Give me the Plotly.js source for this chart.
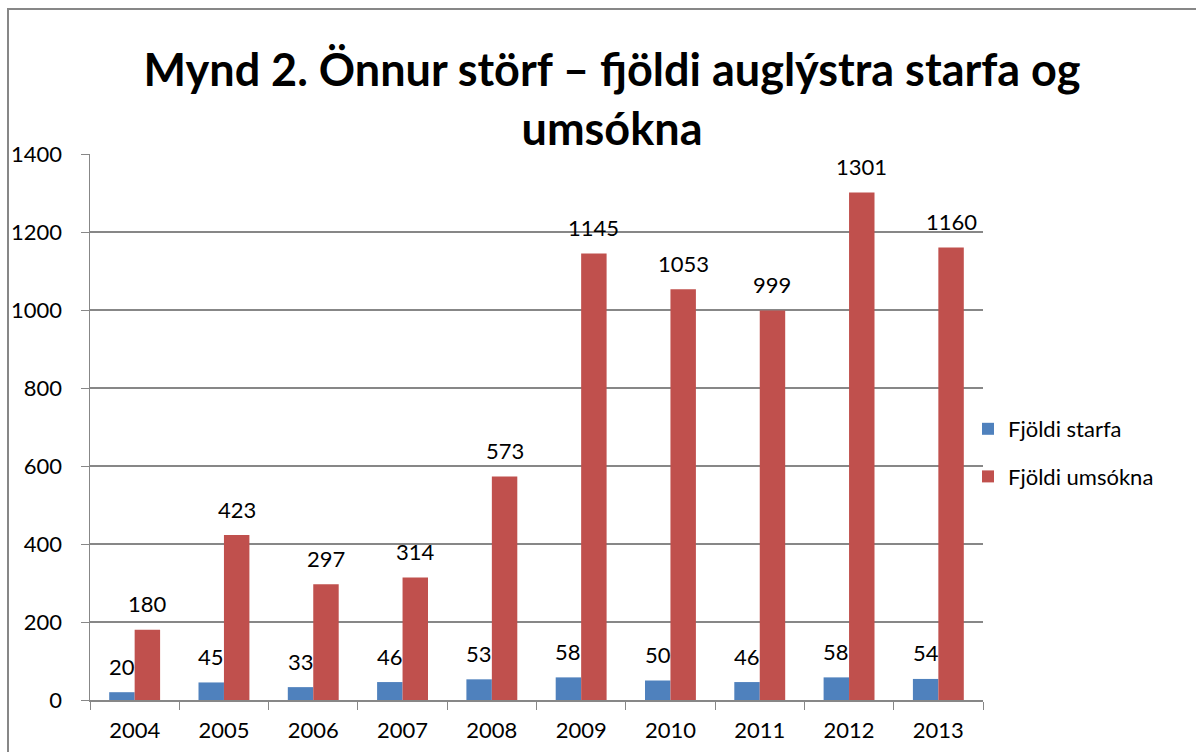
<!DOCTYPE html>
<html>
<head>
<meta charset="utf-8">
<script src="https://cdn.plot.ly/plotly-3.0.1.min.js"></script>
<style>
  html, body { margin: 0; padding: 0; background: #fff; overflow: hidden; }
  #chart { position: absolute; left: 0; top: 0; width: 1196px; height: 752px; }
  #frame { position: absolute; left: 7px; top: 8px; width: 1400px; height: 1000px;
           border: 2px solid #878787; pointer-events: none; }
</style>
</head>
<body>
<div id="chart"></div>
<div id="frame"></div>
<script>
const years = ['2004', '2005', '2006', '2007', '2008', '2009', '2010', '2011', '2012', '2013'];
const fjoldiStarfa = [20, 45, 33, 46, 53, 58, 50, 46, 58, 54];
const fjoldiUmsokna = [180, 423, 297, 314, 573, 1145, 1053, 999, 1301, 1160];
const seriesNames = ['Fjöldi starfa', 'Fjöldi umsókna'];
const titleText = 'Mynd 2. Önnur störf – fjöldi auglýstra starfa og<br>umsókna';

const FONT = 'Lato, "Open Sans", sans-serif';
const BLUE = '#4F81BD';
const RED = '#C0504D';
const GRID = '#878787';

const traces = [
  { type: 'bar', name: seriesNames[0], x: years, y: fjoldiStarfa,
    marker: { color: BLUE }, legendgroup: 'a', hoverinfo: 'x+y' },
  { type: 'bar', name: seriesNames[1], x: years, y: fjoldiUmsokna,
    marker: { color: RED }, legendgroup: 'b', hoverinfo: 'x+y' }
];

const labelFont = { family: FONT, size: 22, color: '#000' };
const annotations = [];
years.forEach((yr, i) => {
  annotations.push({ x: i, y: fjoldiStarfa[i], xref: 'x', yref: 'y', text: String(fjoldiStarfa[i]),
    showarrow: false, xshift: -12.7, yshift: 26, yanchor: 'middle', xanchor: 'center', font: labelFont });
  annotations.push({ x: i, y: fjoldiUmsokna[i], xref: 'x', yref: 'y', text: String(fjoldiUmsokna[i]),
    showarrow: false, xshift: 12.7, yshift: 26, yanchor: 'middle', xanchor: 'center', font: labelFont });
});

const layout = {
  width: 1196, height: 752,
  margin: { l: 90, r: 213, t: 154, b: 52 },
  paper_bgcolor: '#fff', plot_bgcolor: '#fff',
  title: { text: titleText, font: { family: FONT, size: 45, color: '#000', weight: 'bold' },
           x: 612 / 1196, xanchor: 'center', xref: 'container',
           y: 1 - 86 / 752, yanchor: 'top', yref: 'container' },
  barmode: 'group', bargap: 0.43, bargroupgap: 0,
  showlegend: true,
  legend: { x: (968 - 90) / 893, xanchor: 'left', y: (700 - 408) / 546, yanchor: 'top',
            font: { family: FONT, size: 22, color: '#000' }, traceorder: 'grouped',
            tracegroupgap: 16, bgcolor: 'rgba(0,0,0,0)' },
  xaxis: { type: 'category', range: [-0.5, 9.5], tickson: 'boundaries', ticks: 'outside', ticklen: 8, tickcolor: GRID,
           showline: true, linecolor: GRID, linewidth: 1.5, showgrid: false,
           tickfont: { family: FONT, size: 22, color: '#000' }, ticklabelstandoff: 10 },
  yaxis: { range: [0, 1400], dtick: 200, ticks: 'outside', ticklen: 8, tickcolor: GRID,
           showline: true, linecolor: GRID, linewidth: 1.5, showgrid: true, gridcolor: GRID,
           gridwidth: 1.5, zeroline: false,
           tickfont: { family: FONT, size: 22, color: '#000' }, ticklabelstandoff: 14 },
  annotations: annotations
};

Plotly.newPlot('chart', traces, layout, { displayModeBar: false, staticPlot: true });
</script>
</body>
</html>
